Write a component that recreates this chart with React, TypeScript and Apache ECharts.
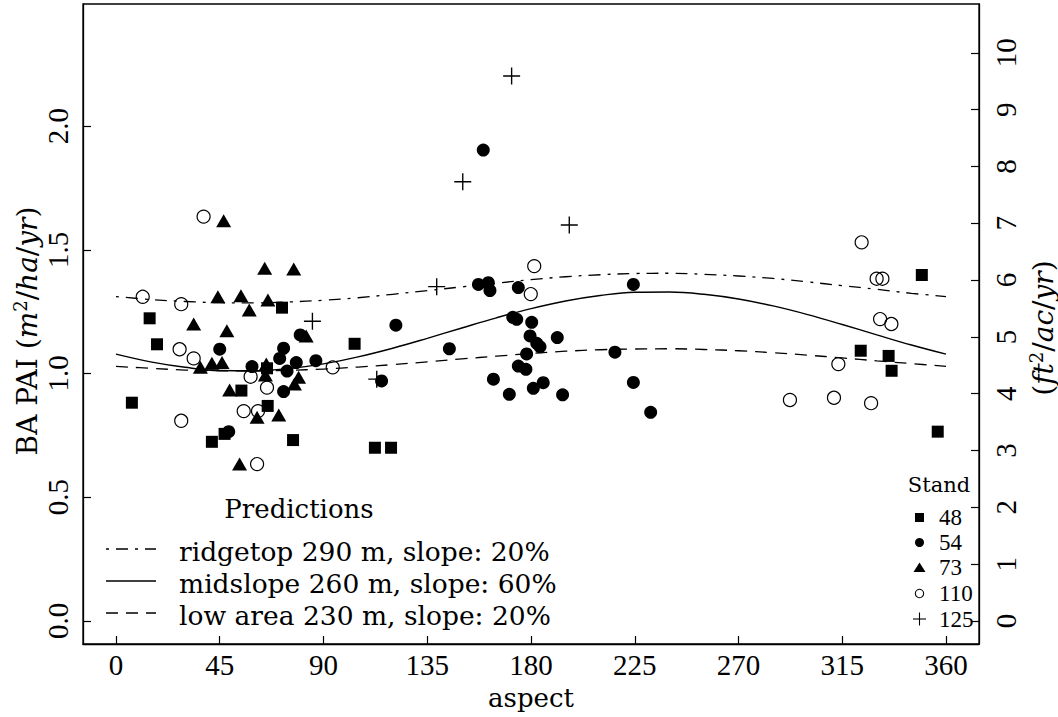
import React, { useEffect, useRef } from "react";
import * as echarts from "echarts";

// ---- axis ticks ----
const aspectTicks = [0, 45, 90, 135, 180, 225, 270, 315, 360];
const baTicks = [0, 0.5, 1.0, 1.5, 2.0];
const ftTicks = [0, 1, 2, 3, 4, 5, 6, 7, 8, 9, 10];
const M2HA_TO_FT2AC = 4.356;
const X_MIN = -14.3;
const X_MAX = 374.3;
const Y_MIN = -0.093;
const Y_MAX = 2.493;

// ---- prediction curves (aspect, BA PAI) ----
const predAspect = [0, 15, 30, 45, 60, 75, 90, 105, 120, 135, 150, 165, 180, 195, 210, 225, 240, 255, 270, 285, 300, 315, 330, 345, 360];
const ridgetop = [1.311, 1.299, 1.291, 1.286, 1.285, 1.289, 1.296, 1.306, 1.32, 1.335, 1.35, 1.365, 1.379, 1.391, 1.399, 1.404, 1.405, 1.401, 1.394, 1.384, 1.37, 1.355, 1.34, 1.324, 1.311];
const midslope = [1.078, 1.047, 1.025, 1.012, 1.011, 1.02, 1.039, 1.067, 1.102, 1.142, 1.184, 1.225, 1.262, 1.293, 1.315, 1.328, 1.329, 1.32, 1.301, 1.273, 1.238, 1.198, 1.156, 1.115, 1.078];
const lowArea = [1.029, 1.021, 1.014, 1.011, 1.01, 1.013, 1.018, 1.026, 1.036, 1.047, 1.059, 1.07, 1.081, 1.09, 1.096, 1.099, 1.1, 1.097, 1.092, 1.084, 1.074, 1.063, 1.051, 1.04, 1.029];

// ---- observations by stand: [aspect, BA PAI] ----
const stand48 = [[6.9, 0.882], [14.6, 1.223], [17.8, 1.118], [41.6, 0.724], [47.1, 0.756], [54.4, 0.931], [65.5, 1.021], [65.8, 0.869], [72.0, 1.266], [76.8, 0.731], [103.5, 1.12], [112.3, 0.7], [119.3, 0.7], [323.0, 1.092], [335.1, 1.071], [336.4, 1.011], [349.5, 1.398], [356.4, 0.765]];
const stand54 = [[45.0, 1.098], [59.0, 1.028], [72.7, 1.102], [71.0, 1.061], [78.2, 1.044], [86.7, 1.052], [74.2, 1.01], [72.7, 0.927], [48.9, 0.765], [79.9, 1.156], [159.3, 1.903], [157.2, 1.36], [161.5, 1.367], [162.2, 1.335], [174.5, 1.347], [224.4, 1.36], [121.4, 1.195], [172.1, 1.227], [173.8, 1.219], [180.3, 1.207], [179.6, 1.152], [191.4, 1.145], [182.5, 1.122], [183.9, 1.108], [144.6, 1.1], [178.1, 1.079], [216.4, 1.086], [174.5, 1.03], [177.8, 1.017], [115.2, 0.97], [163.7, 0.977], [181.0, 0.94], [185.3, 0.963], [170.6, 0.916], [193.7, 0.914], [224.4, 0.964], [231.9, 0.843]];
const stand73 = [[46.7, 1.617], [64.5, 1.425], [77.1, 1.422], [44.2, 1.31], [54.2, 1.314], [65.9, 1.297], [57.8, 1.257], [33.7, 1.2], [48.1, 1.173], [82.5, 1.152], [36.6, 1.025], [41.6, 1.041], [46.0, 1.044], [65.2, 1.038], [64.8, 0.994], [79.2, 0.985], [77.4, 0.958], [49.3, 0.933], [61.2, 0.823], [70.6, 0.832], [53.6, 0.634]];
const stand110 = [[38.0, 1.634], [11.6, 1.31], [28.3, 1.28], [27.6, 1.098], [33.7, 1.061], [94.0, 1.025], [58.4, 0.987], [65.5, 0.943], [55.4, 0.848], [61.6, 0.848], [28.3, 0.809], [61.2, 0.634], [181.4, 1.434], [179.9, 1.321], [323.4, 1.53], [329.9, 1.383], [332.4, 1.383], [331.4, 1.22], [336.3, 1.2], [313.3, 1.038], [292.3, 0.893], [311.4, 0.902], [327.5, 0.88]];
const stand125 = [[171.6, 2.202], [150.4, 1.775], [196.6, 1.6], [139.1, 1.351], [85.2, 1.211], [113.1, 0.977]];

const predLabels = ["ridgetop 290 m, slope: 20%", "midslope 260 m, slope: 60%", "low area 230 m, slope: 20%"];
const standLabels = ["48", "54", "73", "110", "125"];

const WORD_FONT = "DejaVu Serif";
const NUM_FONT = "Liberation Serif";
const DASHDOT = [3, 7, 12, 7];
const DASHED = [12, 8];
const PLUS_PATH = "path://M46,0H54V46H100V54H54V100H46V54H0V46H46Z";

export default function App() {
  const ref = useRef<HTMLDivElement>(null);

  useEffect(() => {
    if (!ref.current) return;
    const chart = echarts.init(ref.current, undefined, { renderer: "svg" });

    const toPairs = (ys: number[]) => predAspect.map((a, i) => [a, ys[i]]);
    const richBase = {
      r: { fontFamily: WORD_FONT, fontSize: 28, color: "#000", lineHeight: 32 },
      i: { fontFamily: WORD_FONT, fontSize: 28, fontStyle: "italic", color: "#000", lineHeight: 32 },
      s: { fontFamily: WORD_FONT, fontSize: 18, color: "#000", verticalAlign: "top", lineHeight: 32 },
    };

    const predY = [549, 581, 613];
    const predDash: any[] = [DASHDOT, null, DASHED];
    const standY = [517.5, 542.5, 567.5, 593.5, 619];
    const sx = 919.5;

    const graphic: any[] = [
      {
        type: "text",
        x: 27,
        y: 331,
        rotation: Math.PI / 2,
        style: {
          text: "{r|BA PAI (}{i|m}{s|2}{r|/}{i|ha}{r|/}{i|yr}{r|)}",
          rich: richBase,
          align: "center",
          verticalAlign: "middle",
        },
      },
      {
        type: "text",
        x: 1043,
        y: 328,
        rotation: Math.PI / 2,
        style: {
          text: "{r|(}{i|ft}{s|2}{r|/}{i|ac}{r|/}{i|yr}{r|)}",
          rich: richBase,
          align: "center",
          verticalAlign: "middle",
        },
      },
      {
        type: "text",
        x: 531,
        y: 698,
        style: { text: "aspect", fontFamily: WORD_FONT, fontSize: 26, fill: "#000", align: "center", verticalAlign: "middle" },
      },
      {
        type: "text",
        x: 299,
        y: 509,
        style: { text: "Predictions", fontFamily: WORD_FONT, fontSize: 26, fill: "#000", align: "center", verticalAlign: "middle" },
      },
      {
        type: "text",
        x: 939,
        y: 485,
        style: { text: "Stand", fontFamily: WORD_FONT, fontSize: 21, fill: "#000", align: "center", verticalAlign: "middle" },
      },
    ];

    predLabels.forEach((lab, i) => {
      const st: any = { stroke: "#000", lineWidth: 1.3 };
      if (predDash[i]) st.lineDash = predDash[i];
      graphic.push({ type: "line", shape: { x1: 106, y1: predY[i], x2: 156, y2: predY[i] }, style: st });
      graphic.push({
        type: "text",
        x: 179,
        y: predY[i] + 2,
        style: { text: lab, fontFamily: WORD_FONT, fontSize: 26.5, fill: "#000", align: "left", verticalAlign: "middle" },
      });
    });

    // stand legend symbols
    graphic.push({ type: "rect", shape: { x: sx - 4.5, y: standY[0] - 4.5, width: 9, height: 9 }, style: { fill: "#000" } });
    graphic.push({ type: "circle", shape: { cx: sx, cy: standY[1], r: 4.5 }, style: { fill: "#000" } });
    graphic.push({
      type: "polygon",
      shape: { points: [[sx - 6, standY[2] + 4.5], [sx + 6, standY[2] + 4.5], [sx, standY[2] - 5]] },
      style: { fill: "#000" },
    });
    graphic.push({ type: "circle", shape: { cx: sx, cy: standY[3], r: 4.2 }, style: { fill: "none", stroke: "#000", lineWidth: 1.1 } });
    graphic.push({ type: "line", shape: { x1: sx - 6.5, y1: standY[4], x2: sx + 6.5, y2: standY[4] }, style: { stroke: "#000", lineWidth: 1.1 } });
    graphic.push({ type: "line", shape: { x1: sx, y1: standY[4] - 6.5, x2: sx, y2: standY[4] + 6.5 }, style: { stroke: "#000", lineWidth: 1.1 } });
    standLabels.forEach((lab, i) => {
      graphic.push({
        type: "text",
        x: 939,
        y: standY[i],
        style: { text: lab, fontFamily: NUM_FONT, fontSize: 23, fill: "#000", align: "left", verticalAlign: "middle" },
      });
    });

    const axisLineStyle = { show: true, onZero: false, lineStyle: { color: "#000", width: 1.3 } };

    const option: any = {
      animation: false,
      backgroundColor: "#fff",
      grid: {
        left: 83,
        right: 79,
        top: 4,
        bottom: 73,
        containLabel: false,
        outerBoundsMode: "none",
        show: true,
        borderColor: "#000",
        borderWidth: 1.3,
        backgroundColor: "transparent",
      },
      xAxis: {
        type: "value",
        min: X_MIN,
        max: X_MAX,
        position: "bottom",
        axisLine: axisLineStyle,
        axisTick: { show: true, inside: true, length: 8, customValues: aspectTicks, lineStyle: { color: "#000", width: 1.2 } },
        axisLabel: {
          customValues: aspectTicks,
          margin: 6,
          color: "#000",
          fontFamily: NUM_FONT,
          fontSize: 29,
        },
        splitLine: { show: false },
      },
      yAxis: [
        {
          type: "value",
          min: Y_MIN,
          max: Y_MAX,
          position: "left",
          axisLine: axisLineStyle,
          axisTick: { show: true, inside: true, length: 8, customValues: baTicks, lineStyle: { color: "#000", width: 1.2 } },
          axisLabel: {
            customValues: baTicks,
            rotate: 90,
            margin: 11,
            color: "#000",
            fontFamily: NUM_FONT,
            fontSize: 29,
            formatter: (v: number) => v.toFixed(1),
          },
          splitLine: { show: false },
        },
        {
          type: "value",
          min: Y_MIN * M2HA_TO_FT2AC,
          max: Y_MAX * M2HA_TO_FT2AC,
          position: "right",
          axisLine: axisLineStyle,
          axisTick: { show: true, inside: true, length: 8, customValues: ftTicks, lineStyle: { color: "#000", width: 1.2 } },
          axisLabel: {
            customValues: ftTicks,
            rotate: 90,
            margin: 12,
            color: "#000",
            fontFamily: NUM_FONT,
            fontSize: 29,
          },
          splitLine: { show: false },
        },
      ],
      series: [
        {
          name: "ridgetop",
          type: "line",
          data: toPairs(ridgetop),
          smooth: 0.4,
          showSymbol: false,
          silent: true,
          lineStyle: { color: "#000", width: 1.3, type: DASHDOT, opacity: 1 },
        },
        {
          name: "midslope",
          type: "line",
          data: toPairs(midslope),
          smooth: 0.4,
          showSymbol: false,
          silent: true,
          lineStyle: { color: "#000", width: 1.4, type: "solid", opacity: 1 },
        },
        {
          name: "low area",
          type: "line",
          data: toPairs(lowArea),
          smooth: 0.4,
          showSymbol: false,
          silent: true,
          lineStyle: { color: "#000", width: 1.3, type: DASHED, opacity: 1 },
        },
        {
          name: "48",
          type: "scatter",
          data: stand48,
          symbol: "rect",
          symbolSize: 12,
          silent: true,
          itemStyle: { color: "#000", opacity: 1 },
        },
        {
          name: "54",
          type: "scatter",
          data: stand54,
          symbol: "circle",
          symbolSize: 13,
          silent: true,
          itemStyle: { color: "#000", opacity: 1 },
        },
        {
          name: "73",
          type: "scatter",
          data: stand73,
          symbol: "triangle",
          symbolSize: [15, 13],
          silent: true,
          itemStyle: { color: "#000", opacity: 1 },
        },
        {
          name: "110",
          type: "scatter",
          data: stand110,
          symbol: "circle",
          symbolSize: 13,
          silent: true,
          itemStyle: { color: "rgba(0,0,0,0)", borderColor: "#000", borderWidth: 1.2, opacity: 1 },
        },
        {
          name: "125",
          type: "scatter",
          data: stand125,
          symbol: PLUS_PATH,
          symbolSize: 17,
          silent: true,
          itemStyle: { color: "#000", opacity: 1 },
        },
      ],
      graphic,
    };

    chart.setOption(option);
    return () => chart.dispose();
  }, []);

  return (
    <div
      ref={ref}
      style={{ position: "fixed", left: 0, top: 0, width: 1058, height: 717, background: "#fff" }}
    />
  );
}
